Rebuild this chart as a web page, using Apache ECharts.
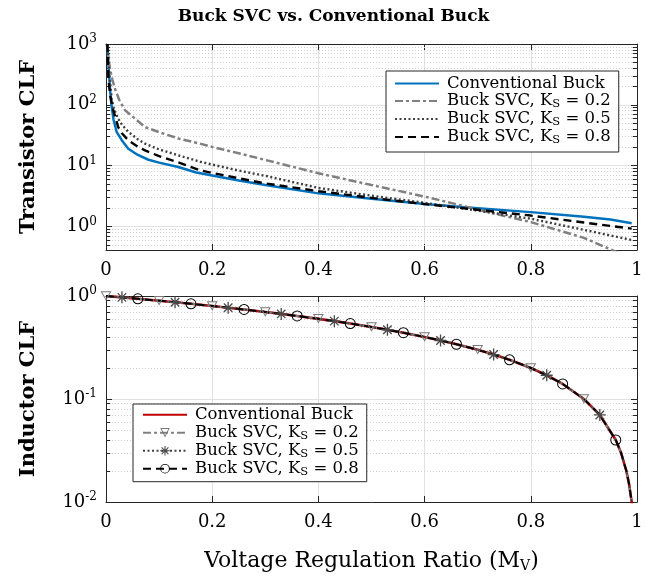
<!DOCTYPE html>
<html>
<head>
<meta charset="utf-8">
<script src="https://cdn.jsdelivr.net/npm/echarts@6/dist/echarts.min.js"></script>
<style>
  html, body { margin: 0; padding: 0; background: #fff; }
  #chart { width: 667px; height: 579px; }
</style>
</head>
<body>
<div id="chart"></div>
<script>
// transistor CLF (top panel)
const convX = [0.0025, 0.005, 0.0075, 0.01, 0.014, 0.02, 0.03, 0.042, 0.06, 0.08, 0.1, 0.136, 0.17, 0.2, 0.25, 0.3, 0.4, 0.5, 0.6, 0.7, 0.8, 0.9, 0.95, 0.99];
const convY = [1000, 400, 182, 105, 58, 36, 26, 19, 15, 12.5, 11.2, 9.5, 7.7, 6.9, 5.7, 4.8, 3.5, 2.85, 2.33, 2.0, 1.72, 1.45, 1.3, 1.13];

const ks02X = [0.0015, 0.004, 0.0075, 0.012, 0.017, 0.025, 0.036, 0.05, 0.0735, 0.1, 0.136, 0.177, 0.2, 0.25, 0.3, 0.4, 0.5, 0.6, 0.68, 0.7, 0.8, 0.9, 0.95, 0.99];
const ks02Y = [1000, 650, 390, 260, 182, 120, 81, 64, 43, 35.5, 28, 23, 20.3, 16, 12.4, 7.5, 4.8, 3.1, 2.1, 1.88, 1.18, 0.65, 0.42, 0.3];

const ks05X = [0.003, 0.006, 0.0107, 0.015, 0.023, 0.03, 0.042, 0.06, 0.0735, 0.1, 0.136, 0.177, 0.2, 0.25, 0.3, 0.4, 0.5, 0.6, 0.7, 0.8, 0.9, 0.95, 0.99];
const ks05Y = [1000, 345, 125, 85, 59, 47, 36, 27, 23, 18.5, 14.8, 11.6, 10.4, 8.3, 6.8, 4.3, 3.2, 2.45, 1.82, 1.34, 0.88, 0.71, 0.6];

const ks08X = [0.0025, 0.0045, 0.008, 0.0138, 0.023, 0.03, 0.042, 0.06, 0.0735, 0.1, 0.136, 0.177, 0.2, 0.25, 0.3, 0.4, 0.5, 0.6, 0.7, 0.8, 0.9, 0.95, 0.99];
const ks08Y = [1000, 270, 140, 81, 43, 34, 26, 20.5, 17.8, 14.3, 11.3, 8.4, 7.6, 6.2, 5.1, 3.8, 2.95, 2.33, 1.88, 1.51, 1.16, 1.02, 0.92];

// inductor CLF (bottom panel) - all four curves lie on top of each other
const indX = [0, 0.03, 0.06, 0.1, 0.13, 0.16, 0.2, 0.23, 0.26, 0.3, 0.33, 0.36, 0.4, 0.43, 0.46, 0.5, 0.53, 0.56, 0.6, 0.63, 0.66, 0.7, 0.73, 0.76, 0.8, 0.83, 0.86, 0.9, 0.93, 0.96, 0.97, 0.98, 0.985, 0.99, 0.995];
const indY = [1, 0.97, 0.94, 0.9, 0.87, 0.84, 0.8, 0.77, 0.74, 0.7, 0.67, 0.64, 0.6, 0.57, 0.54, 0.5, 0.47, 0.44, 0.4, 0.37, 0.34, 0.3, 0.27, 0.24, 0.2, 0.17, 0.14, 0.1, 0.07, 0.04, 0.03, 0.02, 0.015, 0.01, 0.005];

// where the markers sit
const mk02X = [0, 0.1, 0.2, 0.3, 0.4, 0.5, 0.6, 0.7, 0.8, 0.9];
const mk05X = [0.03, 0.13, 0.23, 0.33, 0.43, 0.53, 0.63, 0.73, 0.83, 0.93];
const mk08X = [0.06, 0.16, 0.26, 0.36, 0.46, 0.56, 0.66, 0.76, 0.86, 0.96];

// minor log grid lines / ticks
const minorTop = [0.5, 0.6, 0.7, 0.8, 0.9, 2, 3, 4, 5, 6, 7, 8, 9, 20, 30, 40, 50, 60, 70, 80, 90, 200, 300, 400, 500, 600, 700, 800, 900];
const minorBot = [0.02, 0.03, 0.04, 0.05, 0.06, 0.07, 0.08, 0.09, 0.2, 0.3, 0.4, 0.5, 0.6, 0.7, 0.8, 0.9];

const FONT = "DejaVu Serif";
const AXIS = "#262626";

// hollow marker shapes (line shows through like matlab)
const TRI = "path://M-10 -8.66 L10 -8.66 L0 8.66 Z M-6.88 -6.86 L0 5.06 L6.88 -6.86 Z";
const STAR = "path://M-10 -1.1 L10 -1.1 L10 1.1 L-10 1.1 Z M-1.1 -10 L1.1 -10 L1.1 10 L-1.1 10 Z " +
  "M6.29 7.85 L-7.85 -6.29 L-6.29 -7.85 L7.85 6.29 Z M-6.29 7.85 L-7.85 6.29 L6.29 -7.85 L7.85 -6.29 Z";
const RING = "path://M10 0 A10 10 0 1 1 -10 0 A10 10 0 1 1 10 0 Z M8.2 0 A8.2 8.2 0 1 0 -8.2 0 A8.2 8.2 0 1 0 8.2 0 Z";

const labels = {
  conv_t: "Conventional Buck",
  ks02_t: "Buck SVC, K{sub|S} = 0.2",
  ks05_t: "Buck SVC, K{sub|S} = 0.5",
  ks08_t: "Buck SVC, K{sub|S} = 0.8",
  conv_b: "Conventional Buck",
  ks02_b: "Buck SVC, K{sub|S} = 0.2",
  ks05_b: "Buck SVC, K{sub|S} = 0.5",
  ks08_b: "Buck SVC, K{sub|S} = 0.8",
};

function pairs(xs, ys) {
  return xs.map((x, i) => [x, ys[i]]);
}
function withMarks(xs, ys, marks) {
  return xs.map((x, i) => {
    const hit = marks.some((m) => Math.abs(m - x) < 1e-9);
    return hit ? [x, ys[i]] : { value: [x, ys[i]], symbol: "none" };
  });
}
function logLabel(v) {
  const e = Math.log10(v);
  if (Math.abs(e - Math.round(e)) > 1e-6) return "";
  return "10{sup|" + Math.round(e) + "}";
}

const tickLabel = { color: "#000", fontFamily: FONT, fontSize: 18 };
const supRich = { sup: { fontFamily: FONT, fontSize: 12, padding: [0, 0, 10, 0], color: "#000" } };

function xAxes(grid, name) {
  return [
    {
      gridIndex: grid, type: "value", min: 0, max: 1, interval: 0.2,
      name: name || "", nameLocation: "middle", nameGap: 48,
      nameTextStyle: {
        fontFamily: FONT, fontSize: 22, color: "#000",
        rich: { sub: { fontFamily: FONT, fontSize: 14, padding: [9, 0, 0, 0], color: "#000" } },
      },
      axisLine: { show: true, onZero: false, lineStyle: { color: AXIS } },
      axisTick: { inside: true, length: 6, lineStyle: { color: AXIS } },
      axisLabel: Object.assign({ margin: 11 }, tickLabel),
      splitLine: { show: true, lineStyle: { color: "#e2e2e2" } },
    },
    {
      gridIndex: grid, type: "value", position: "top", min: 0, max: 1, interval: 0.2,
      axisLine: { show: true, onZero: false, lineStyle: { color: AXIS } },
      axisTick: { inside: true, length: 6, lineStyle: { color: AXIS } },
      axisLabel: { show: false },
      splitLine: { show: false },
    },
  ];
}
function yAxes(grid, min, max, name) {
  return [
    {
      gridIndex: grid, type: "log", logBase: 10, min: min, max: max,
      name: name, nameLocation: "middle", nameGap: 67,
      nameTextStyle: { fontFamily: FONT, fontSize: 21, fontWeight: "bold", color: "#000" },
      axisLine: { show: true, onZero: false, lineStyle: { color: AXIS } },
      axisTick: { inside: true, length: 6, lineStyle: { color: AXIS } },
      axisLabel: Object.assign({ margin: 9, formatter: logLabel, rich: supRich }, tickLabel),
      splitLine: { show: true, lineStyle: { color: "#e2e2e2" } },
    },
    {
      gridIndex: grid, type: "log", logBase: 10, min: min, max: max, position: "right",
      axisLine: { show: true, onZero: false, lineStyle: { color: AXIS } },
      axisTick: { inside: true, length: 6, lineStyle: { color: AXIS } },
      axisLabel: { show: false },
      splitLine: { show: false },
    },
  ];
}
// dotted minor grid plus short minor ticks on both sides
function minorGrid(vals) {
  const grid = vals.map((v) => ({ yAxis: v }));
  const ticks = [];
  vals.forEach((v) => {
    ticks.push([{ coord: [0, v], lineStyle: { color: AXIS, type: "solid", width: 1 } }, { coord: [0.008, v] }]);
    ticks.push([{ coord: [0.992, v], lineStyle: { color: AXIS, type: "solid", width: 1 } }, { coord: [1, v] }]);
  });
  return {
    silent: true, symbol: "none", z: 1, animation: false,
    label: { show: false },
    lineStyle: { color: "#d0d0d0", type: [1, 2], width: 1 },
    data: grid.concat(ticks),
  };
}
function legendBox(names, left, top, lh, pad) {
  return {
    orient: "vertical", left: left, top: top, selectedMode: false,
    data: names.map((n) => n.indexOf("conv") === 0 || n.slice(-1) === "t"
      ? { name: n, itemStyle: { opacity: 0 } } : { name: n }),
    itemWidth: 44, itemHeight: 12, itemGap: 0,
    padding: pad,
    backgroundColor: "#fff", borderColor: AXIS, borderWidth: 1,
    formatter: (n) => labels[n],
    textStyle: {
      fontFamily: FONT, fontSize: 16.5, color: "#000", lineHeight: lh, padding: [0, 0, 0, 3],
      rich: { sub: { fontFamily: FONT, fontSize: 11.5, lineHeight: lh, padding: [6, 0, 0, 0], color: "#000" } },
    },
  };
}

const chart = echarts.init(document.getElementById("chart"), null, { renderer: "canvas" });
chart.setOption({
  animation: false,
  backgroundColor: "#fff",
  title: {
    text: "Buck SVC vs. Conventional Buck", left: "center", top: 3,
    textStyle: { fontFamily: FONT, fontSize: 17, fontWeight: "bold", color: "#000" },
  },
  grid: [
    { left: 106, right: 30, top: 44, height: 206 },
    { left: 106, right: 30, top: 296, height: 206 },
  ],
  xAxis: xAxes(0).concat(xAxes(1, "Voltage Regulation Ratio (M{sub|V})")),
  yAxis: yAxes(0, 0.41, 1000, "Transistor CLF").concat(yAxes(1, 0.01, 1, "Inductor CLF")),
  legend: [
    legendBox(["conv_t", "ks02_t", "ks05_t", "ks08_t"], 386, 71, 16.5, [4, 8, 6, 8]),
    legendBox(["conv_b", "ks02_b", "ks05_b", "ks08_b"], 133, 404, 17.7, [2, 8, 4, 9]),
  ],
  series: [
    {
      name: "conv_t", type: "line", xAxisIndex: 0, yAxisIndex: 0, symbol: "none",
      color: "#0072BD",
      lineStyle: { color: "#0072BD", width: 2.5 },
      data: pairs(convX, convY), markLine: minorGrid(minorTop),
    },
    {
      name: "ks02_t", type: "line", xAxisIndex: 0, yAxisIndex: 0, symbol: "none",
      color: "#808080",
      lineStyle: { color: "#808080", width: 2.5, type: [8, 3, 3, 3] },
      data: pairs(ks02X, ks02Y),
    },
    {
      name: "ks05_t", type: "line", xAxisIndex: 0, yAxisIndex: 0, symbol: "none",
      color: "#404040",
      lineStyle: { color: "#404040", width: 2.4, type: [2, 2.5] },
      data: pairs(ks05X, ks05Y),
    },
    {
      name: "ks08_t", type: "line", xAxisIndex: 0, yAxisIndex: 0, symbol: "none",
      color: "#000",
      lineStyle: { color: "#000", width: 2.4, type: [8, 5] },
      data: pairs(ks08X, ks08Y),
    },
    {
      name: "conv_b", type: "line", xAxisIndex: 2, yAxisIndex: 2, symbol: "none",
      color: "#C00000",
      lineStyle: { color: "#C00000", width: 2.6 },
      data: pairs(indX, indY), markLine: minorGrid(minorBot),
    },
    {
      name: "ks02_b", type: "line", xAxisIndex: 2, yAxisIndex: 2,
      symbol: TRI, symbolSize: 11, symbolKeepAspect: true, color: "#7a7a7a",
      itemStyle: { color: "#7a7a7a" },
      lineStyle: { color: "#808080", width: 2, type: [8, 3, 3, 3] },
      data: withMarks(indX, indY, mk02X),
    },
    {
      name: "ks05_b", type: "line", xAxisIndex: 2, yAxisIndex: 2,
      symbol: STAR, symbolSize: 12, symbolKeepAspect: true, color: "#4a4a4a",
      itemStyle: { color: "#4a4a4a" },
      lineStyle: { color: "#404040", width: 1.8, type: [2, 2.5] },
      data: withMarks(indX, indY, mk05X),
    },
    {
      name: "ks08_b", type: "line", xAxisIndex: 2, yAxisIndex: 2,
      symbol: RING, symbolSize: 11, symbolKeepAspect: true, color: "#000",
      itemStyle: { color: "#000" },
      lineStyle: { color: "#000", width: 2, type: [8, 5] },
      data: withMarks(indX, indY, mk08X),
    },
  ],
});
</script>
</body>
</html>
